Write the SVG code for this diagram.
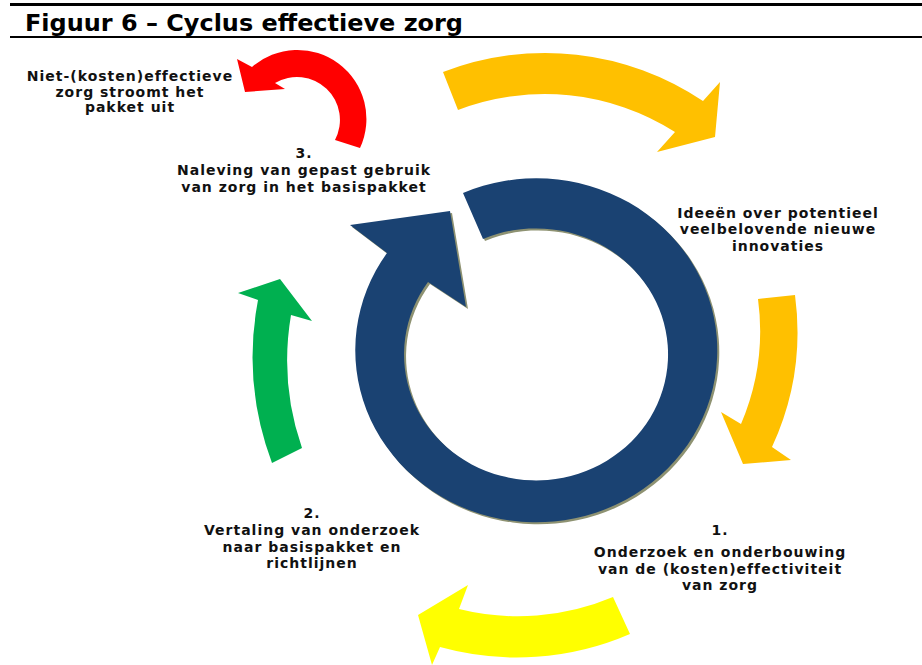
<svg xmlns="http://www.w3.org/2000/svg" width="922" height="665" viewBox="0 0 922 665">
<style>
.t{font-family:"DejaVu Sans",Verdana,"Liberation Sans",sans-serif;font-weight:bold;font-size:14px;letter-spacing:1px;fill:#111;text-anchor:middle}
.title{font-family:"DejaVu Sans",Verdana,"Liberation Sans",sans-serif;font-weight:bold;font-size:23px;fill:#000}
</style>
<rect x="0" y="0" width="922" height="665" fill="#fff"/>
<g id="header">
<line x1="10" y1="4.5" x2="922" y2="4.5" stroke="#000" stroke-width="3"/>
<text class="title" x="25" y="31" textLength="438" lengthAdjust="spacingAndGlyphs">Figuur 6 – Cyclus effectieve zorg</text>
<line x1="10" y1="37" x2="922" y2="37" stroke="#000" stroke-width="2"/>
</g>
<g id="cycle">
<path transform="translate(2,2)" fill="#8e9272" d="M 463,193 A 181 172 0 1 1 387,253 L 350,225 L 450,211 L 466,307 L 428,282 A 132 126 0 1 0 483,239 Z"/>
<path fill="#1a4272" d="M 463,193 A 181 172 0 1 1 387,253 L 350,225 L 450,211 L 466,307 L 428,282 A 132 126 0 1 0 483,239 Z"/>
</g>
<g id="connectors">
<path id="arrow-top" fill="#ffc000" d="M 443,72 A 283 283 0 0 1 703,101 L 720,82 L 715,137 L 657,152 L 675,132 A 243 243 0 0 0 458,110 Z"/>
<path id="arrow-right" fill="#ffc000" d="M 795,295 A 275 275 0 0 1 772,447 L 791,460 L 743,464 L 721,412 L 741,424 A 238 238 0 0 0 758,299 Z"/>
<path id="arrow-bottom" fill="#ffff00" d="M 630,634 A 285 285 0 0 1 440,647 L 432,665 L 418,615 L 468,585 L 459,609 A 244 244 0 0 0 613,597 Z"/>
<path id="arrow-left" fill="#00b050" d="M 272,463 A 303 303 0 0 1 258,300 L 238,293 L 280,279 L 312,321 L 291,315 A 269 269 0 0 0 302,448 Z"/>
<path id="arrow-out" fill="#ff0000" d="M 360,148 A 69 69 0 0 0 252,67 L 237,59 L 245,92 L 285,89 L 275,83 A 43 43 0 0 1 335,140 Z"/>
</g>
<g id="node-out">
<text class="t" x="130" y="81">Niet-(kosten)effectieve</text>
<text class="t" x="130" y="97">zorg stroomt het</text>
<text class="t" x="130" y="112">pakket uit</text>
</g>
<g id="node-3">
<text class="t" x="304" y="158">3.</text>
<text class="t" x="304" y="175">Naleving van gepast gebruik</text>
<text class="t" x="304" y="192">van zorg in het basispakket</text>
</g>
<g id="node-ideas">
<text class="t" x="778" y="218">Ideeën over potentieel</text>
<text class="t" x="778" y="234">veelbelovende nieuwe</text>
<text class="t" x="778" y="251">innovaties</text>
</g>
<g id="node-2">
<text class="t" x="312" y="518">2.</text>
<text class="t" x="312" y="535">Vertaling van onderzoek</text>
<text class="t" x="312" y="552">naar basispakket en</text>
<text class="t" x="312" y="568">richtlijnen</text>
</g>
<g id="node-1">
<text class="t" x="720" y="535">1.</text>
<text class="t" x="720" y="557">Onderzoek en onderbouwing</text>
<text class="t" x="720" y="574">van de (kosten)effectiviteit</text>
<text class="t" x="720" y="590">van zorg</text>
</g>
</svg>
